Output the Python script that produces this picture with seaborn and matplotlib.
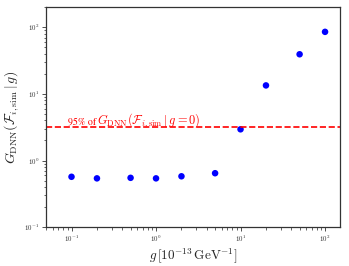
import matplotlib
matplotlib.use("Agg")
import matplotlib.pyplot as plt
import numpy as np
import pandas as pd
import seaborn as sns

# coupling values and DNN test statistic
g_vals = [0.1, 0.2, 0.5, 1, 2, 5, 10, 20, 50, 100]
gdnn_vals = [0.57, 0.54, 0.55, 0.54, 0.58, 0.645, 2.94, 13.4, 39.3, 85.3]
threshold = 3.15

sns.set_style("ticks")
plt.rcParams["font.family"] = ["cmr10", "DejaVu Serif"]
plt.rcParams["mathtext.fontset"] = "cm"
plt.rcParams["axes.formatter.use_mathtext"] = True

df = pd.DataFrame({"g": g_vals, "G": gdnn_vals})

fig, ax = plt.subplots(figsize=(3.49, 2.66), dpi=100)
sns.scatterplot(data=df, x="g", y="G", color="blue", s=22, edgecolor="none", ax=ax)
ax.axhline(threshold, color="red", ls="--", lw=1.2)
# label split in two so the percent sign gets a proper glyph
ax.text(0.195, threshold * 1.1, "95% of", family="STIXGeneral",
        color="red", fontsize=7.2, ha="right", va="baseline")
ax.text(0.203, threshold * 1.1, r"$G_{\rm DNN}(\mathcal{F}_{i,{\rm sim}}\,|\,g=0)$",
        color="red", fontsize=8.9, ha="left", va="baseline")

ax.set_xscale("log")
ax.set_yscale("log")
ax.set_xlim(0.05, 150)
ax.set_ylim(0.1, 200)
ax.set_xlabel(r"$g\,[10^{-13}\,{\rm GeV}^{-1}]$", fontsize=9.5, labelpad=1)
ax.set_ylabel(r"$G_{\rm DNN}(\mathcal{F}_{i,{\rm sim}}\,|\,g)$", fontsize=10, labelpad=2)
ax.tick_params(axis="both", which="major", labelsize=5, length=3, width=0.6, colors="#333333", pad=2)
ax.tick_params(axis="both", which="minor", length=1.8, width=0.5)
for sp in ax.spines.values():
    sp.set_color("#333333")
    sp.set_linewidth(0.9)

fig.subplots_adjust(left=0.132, right=0.974, top=0.973, bottom=0.146)
fig.savefig("out.png", dpi=100)
